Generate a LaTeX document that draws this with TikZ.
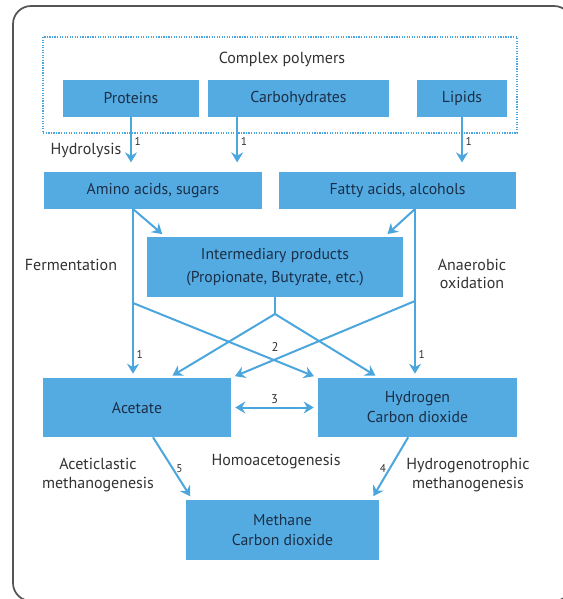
\documentclass[tikz,border=0pt]{standalone}
\usepackage{fontspec}
\setmainfont{PT Sans}
\usetikzlibrary{positioning, arrows.meta}

\definecolor{boxblue}{RGB}{84,171,225}
\definecolor{flowblue}{RGB}{76,166,222}
\definecolor{boxtext}{RGB}{28,46,70}
\definecolor{labeltext}{RGB}{50,50,50}
\definecolor{framegray}{RGB}{85,85,85}

\begin{document}
\begin{tikzpicture}[x=0.75pt, y=-0.75pt,
      stage/.style={fill=boxblue, inner sep=0pt, minimum height=27.75pt, align=center, font=\fontsize{11.8}{15}\selectfont, text=boxtext},
      flow/.style={-{Stealth[length=7.5pt, width=9pt, inset=2.5pt]}, line width=1.5pt, flowblue, shorten >=3pt},
      twoway/.style={{Stealth[length=7.5pt, width=9pt, inset=2.5pt]}-{Stealth[length=7.5pt, width=9pt, inset=2.5pt]}, line width=1.5pt, flowblue, shorten >=3pt, shorten <=3pt},
      branch/.style={line width=1.5pt, flowblue},
      num/.style={font=\fontsize{8.5}{9}\selectfont, text=labeltext, inner sep=2pt},
      note/.style={font=\fontsize{12}{14}\selectfont, text=labeltext, align=center}
    ]
      \useasboundingbox (0,0) rectangle (563,599);
      \begin{scope}
        \clip (0,0) rectangle (563,599);
        \draw[framegray, line width=1.3pt, rounded corners=13.5pt] (13,6) rectangle (572,601);
      \end{scope}

      % complex polymers
      \draw[flowblue, densely dotted, line width=0.9pt] (43,37) rectangle (517,133);
      \node[note] (poly) at (282,59) {Complex polymers};
      \node[stage, minimum width=102pt] (prot) at (131,98.5) {Proteins};
      \node[stage, minimum width=135.75pt] (carb) at (298.5,98.5) {Carbohydrates};
      \node[stage, minimum width=67.5pt] (lip) at (462,98.5) {Lipids};

      \node[stage, minimum width=163.5pt] (amino) at (153,190.5) {Amino acids, sugars};
      \node[stage, minimum width=177.75pt] (fatty) at (397.5,190.5) {Fatty acids, alcohols};
      \node[stage, minimum width=192pt, minimum height=45pt, font=\fontsize{11.8}{17}\selectfont] (inter) at (275,267) {Intermediary products\\(Propionate, Butyrate, etc.)};
      \node[stage, minimum width=141pt, minimum height=44.25pt] (acet) at (137,407.5) {Acetate};
      \node[stage, minimum width=149.25pt, minimum height=44.25pt] (hyd) at (417.5,407.5) {Hydrogen\\Carbon dioxide};
      \node[stage, minimum width=144.75pt, minimum height=45pt] (meth) at (282.5,530) {Methane\\Carbon dioxide};

      \node[note] (hydro) at (86,150) {Hydrolysis};
      \node[note] (ferm) at (71,265) {Fermentation};
      \node[note, font=\fontsize{12}{13.5}\selectfont] (anox) at (472,274) {Anaerobic\\oxidation};
      \node[note] (acmeth) at (98,475) {Aceticlastic\\methanogenesis};
      \node[note] (homo) at (276,462) {Homoacetogenesis};
      \node[note] (hymeth) at (468,475) {Hydrogenotrophic\\methanogenesis};

      % hydrolysis
      \draw[flow, shorten >=7pt] (prot.south) -- (prot.south |- amino.north) node[num, midway, right, yshift=2pt] {1};
      \draw[flow, shorten >=7pt] ([xshift=-46pt]carb.south) -- ([xshift=-46pt]carb.south |- amino.north) node[num, midway, right, yshift=2pt] {1};
      \draw[flow, shorten >=7pt] (lip.south) -- (lip.south |- fatty.north) node[num, midway, right, yshift=2pt] {1};

      % fermentation and oxidation
      \coordinate (aTop) at (133,209);
      \coordinate (aSplit) at (133,303);
      \coordinate (fTop) at (415,209);
      \coordinate (fSplit) at (415,301);
      \coordinate (iFoot) at (275,314);

      \draw[flow] (aTop) -- ([xshift=14pt]inter.north west);
      \draw[flow] (fTop) -- ([xshift=-14pt]inter.north east);
      \draw[flow] (aTop) -- (aTop |- acet.north) node[num, pos=0.86, right] {1};
      \draw[flow] (fTop) -- (fTop |- hyd.north) node[num, pos=0.86, right] {1};
      \draw[flow] (aSplit) -- (hyd.north west);
      \draw[flow] (fSplit) -- (acet.north east);
      \draw[branch] (inter.south) -- (iFoot);
      \draw[flow] (iFoot) -- ([xshift=24pt]acet.north);
      \draw[flow] (iFoot) -- ([xshift=-29pt]hyd.north);
      \node[num, font=\fontsize{9.5}{10}\selectfont] (two) at (275,347) {2};

      % homoacetogenesis and methanogenesis
      \draw[twoway] (acet.east) -- (hyd.west) node[num, midway, above, font=\fontsize{9.5}{10}\selectfont] {3};
      \draw[flow] ([xshift=12pt]acet.south) -- ([xshift=5pt]meth.north west) node[num, midway, right] {5};
      \draw[flow] ([xshift=-7pt]hyd.south) -- ([xshift=-6pt]meth.north east) node[num, midway, left] {4};
    \end{tikzpicture}
\end{document}
